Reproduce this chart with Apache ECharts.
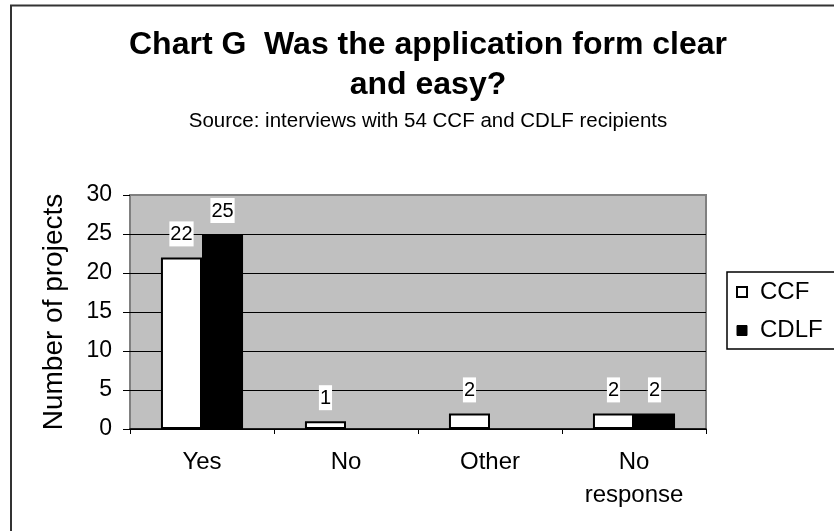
<!DOCTYPE html>
<html>
<head>
<meta charset="utf-8">
<script src="https://cdn.jsdelivr.net/npm/echarts@6/dist/echarts.min.js"></script>
<style>
html,body{margin:0;padding:0;background:#fff;}
#chart{width:834px;height:531px;}
</style>
</head>
<body>
<div id="chart"></div>
<script>
var titleText = 'Chart G  Was the application form clear\nand easy?';
var subtitleText = 'Source: interviews with 54 CCF and CDLF recipients';
var categories = ['Yes', 'No', 'Other', 'No\nresponse'];
var ccfValues = [22, 1, 2, 2];
var cdlfValues = [25, null, null, 2];
var yTicks = [0, 5, 10, 15, 20, 25, 30];
var yAxisTitle = 'Number of projects';

var FONT = '"Liberation Sans", Arial, sans-serif';
var chart = echarts.init(document.getElementById('chart'));

var labelCfg = {
  show: true,
  position: 'top',
  distance: 11,
  color: '#000',
  fontFamily: FONT,
  fontSize: 20,
  backgroundColor: '#fff',
  padding: [3, 1, 2, 1]
};

chart.setOption({
  animation: false,
  backgroundColor: '#fff',
  title: [
    {
      text: titleText,
      left: 428,
      top: 25,
      textAlign: 'center',
      padding: 0,
      textStyle: {fontFamily: FONT, fontSize: 32, fontWeight: 'bold', color: '#000', lineHeight: 40}
    },
    {
      text: subtitleText,
      left: 428,
      top: 111,
      textAlign: 'center',
      padding: 0,
      textStyle: {fontFamily: FONT, fontSize: 20.5, fontWeight: 'normal', color: '#000', lineHeight: 21}
    }
  ],
  legend: {
    orient: 'vertical',
    left: 736,
    top: 278,
    padding: 0,
    itemWidth: 10,
    itemHeight: 10,
    itemGap: 10.5,
    icon: 'rect',
    textStyle: {fontFamily: FONT, fontSize: 24, color: '#000', lineHeight: 28, padding: [0, 0, 0, 8]},
    data: [
      {name: 'CCF', itemStyle: {color: '#fff', borderColor: '#000', borderWidth: 2}},
      {name: 'CDLF', itemStyle: {color: '#000', borderColor: '#000', borderWidth: 1}}
    ]
  },
  grid: {
    left: 130, right: 128, top: 195, bottom: 102,
    show: true,
    backgroundColor: '#C0C0C0',
    borderColor: '#808080',
    borderWidth: 2
  },
  xAxis: {
    type: 'category',
    data: categories,
    axisLine: {show: true, lineStyle: {color: '#000', width: 1.5}},
    axisTick: {show: true, length: 5, lineStyle: {color: '#000', width: 1}},
    axisLabel: {fontFamily: FONT, fontSize: 24, color: '#000', lineHeight: 33, margin: 17}
  },
  yAxis: {
    type: 'value',
    min: yTicks[0],
    max: yTicks[yTicks.length - 1],
    interval: yTicks[1] - yTicks[0],
    name: yAxisTitle,
    nameLocation: 'middle',
    nameGap: 62,
    nameTextStyle: {fontFamily: FONT, fontSize: 28, color: '#000'},
    axisLine: {show: false},
    axisTick: {show: true, length: 7, lineStyle: {color: '#000', width: 1}},
    axisLabel: {fontFamily: FONT, fontSize: 23, color: '#000', margin: 18},
    splitLine: {show: true, showMaxLine: false, lineStyle: {color: '#000', width: 1}}
  },
  series: [
    {
      name: 'CCF',
      type: 'bar',
      data: ccfValues,
      barGap: '0%',
      barCategoryGap: '43%',
      itemStyle: {color: '#fff', borderColor: '#000', borderWidth: 2},
      label: labelCfg
    },
    {
      name: 'CDLF',
      type: 'bar',
      data: cdlfValues,
      itemStyle: {color: '#000', borderColor: '#000', borderWidth: 2},
      label: labelCfg
    }
  ],
  graphic: [
    {
      type: 'rect',
      shape: {x: 11, y: 5.5, width: 900, height: 600},
      style: {fill: 'none', stroke: '#333', lineWidth: 2},
      silent: true
    },
    {
      type: 'rect',
      shape: {x: 727, y: 272, width: 200, height: 77},
      style: {fill: 'none', stroke: '#000', lineWidth: 1.5},
      silent: true
    }
  ]
});
</script>
</body>
</html>
